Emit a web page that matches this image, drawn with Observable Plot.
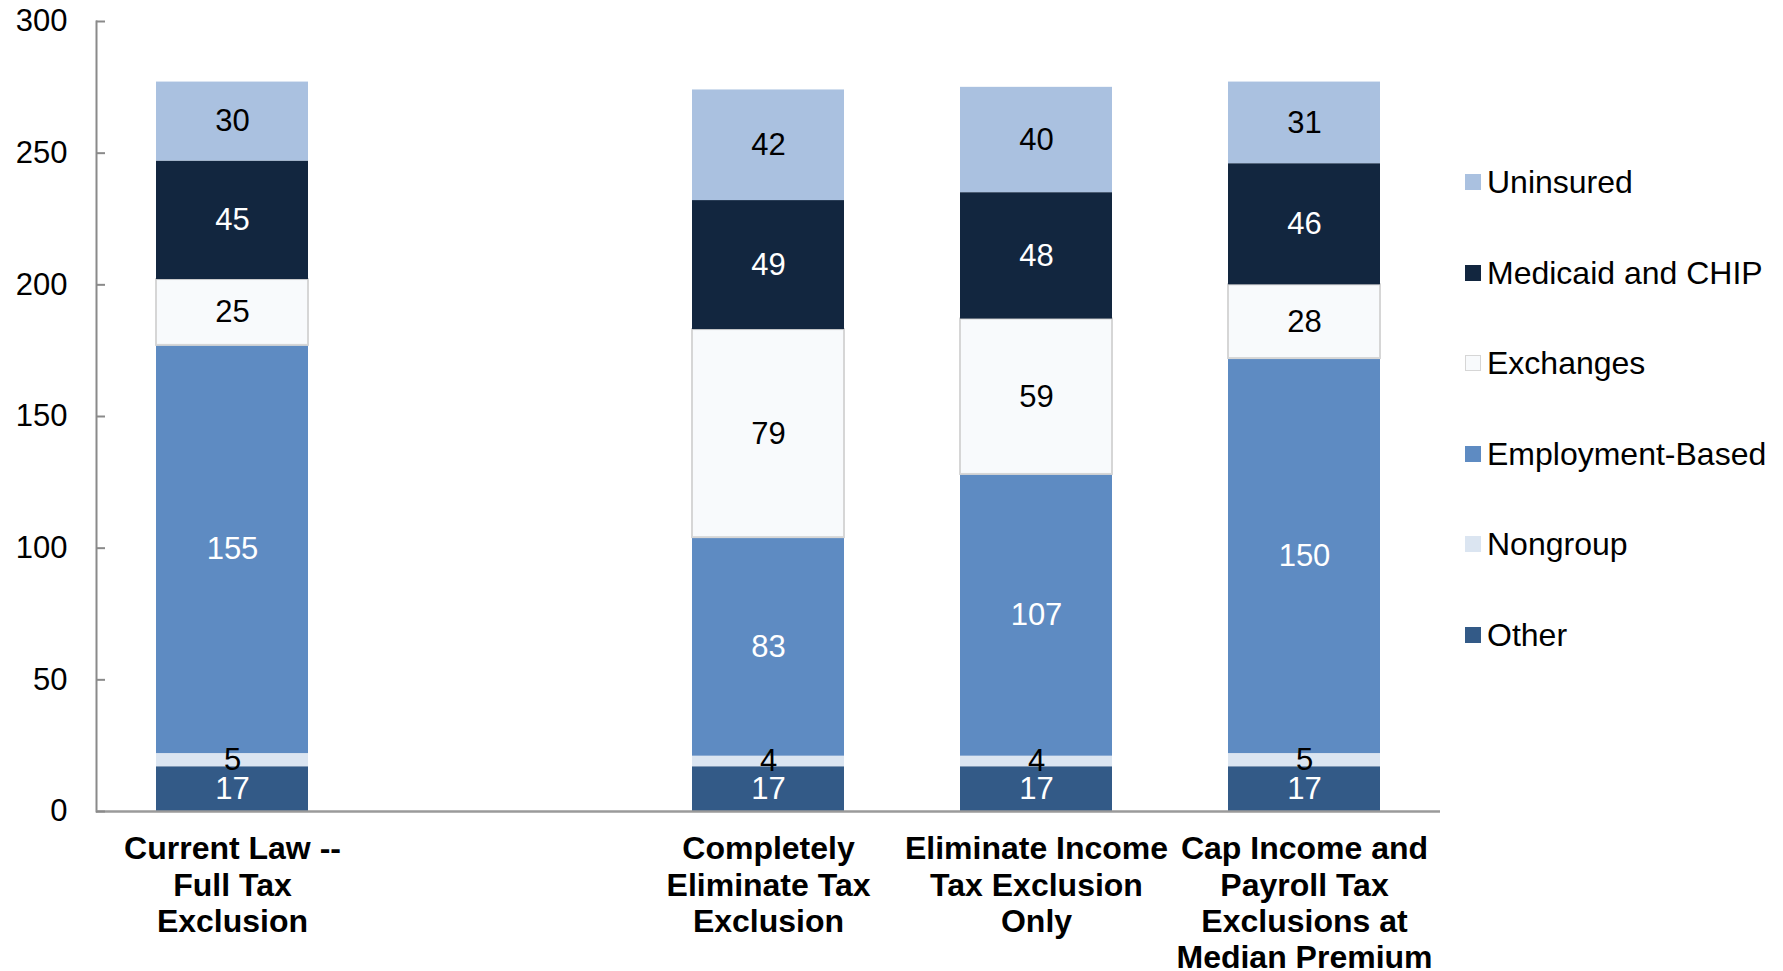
<!DOCTYPE html>
<html><head><meta charset="utf-8">
<script src="https://cdn.jsdelivr.net/npm/d3@7"></script>
<script src="https://cdn.jsdelivr.net/npm/@observablehq/plot@0.6"></script>
<style>
body{margin:0;background:#fff;font-family:"Liberation Sans",Arial,sans-serif;}
#wrap{position:relative;width:1783px;height:971px;overflow:hidden;}
#legend{position:absolute;left:1465px;top:164px;display:flex;flex-direction:column;gap:54.5px;}
.item{display:flex;align-items:center;white-space:nowrap;font-size:32px;line-height:36px;color:#000;}
.sw{width:16px;height:16px;margin-right:6px;box-sizing:border-box;flex:none;}
</style></head><body><div id="wrap"><div id="chart"></div><div id="legend"></div></div>
<script>
const categories = ["Current Law -- Full Tax Exclusion", "(gap)", "Completely Eliminate Tax Exclusion", "Eliminate Income Tax Exclusion Only", "Cap Income and Payroll Tax Exclusions at Median Premium"];
const categoryLabels = ["Current Law --\nFull Tax\nExclusion", "", "Completely\nEliminate Tax\nExclusion", "Eliminate Income\nTax Exclusion\nOnly", "Cap Income and\nPayroll Tax\nExclusions at\nMedian Premium"];
const barCategories = [categories[0], categories[2], categories[3], categories[4]];
const series = ["Other", "Nongroup", "Employment-Based", "Exchanges", "Medicaid and CHIP", "Uninsured"];
const seriesColors = ["#335A87", "#DBE5F1", "#5E8BC2", "#F8FAFC", "#12263F", "#AAC1E0"];
const darkSeries = ["Other", "Employment-Based", "Medicaid and CHIP"];
const other = [17, 17, 17, 17];
const nongroup = [5, 4, 4, 5];
const employment = [155, 83, 107, 150];
const exchanges = [25, 79, 59, 28];
const medicaid = [45, 49, 48, 46];
const uninsured = [30, 42, 40, 31];
const yTicks = [0, 50, 100, 150, 200, 250, 300];
const legendOrder = ["Uninsured", "Medicaid and CHIP", "Exchanges", "Employment-Based", "Nongroup", "Other"];

const valuesBySeries = [other, nongroup, employment, exchanges, medicaid, uninsured];
const data = [];
barCategories.forEach((c, i) => {
  series.forEach((s, j) => data.push({category: c, series: s, value: valuesBySeries[j][i]}));
});
const labelMap = new Map(categories.map((c, i) => [c, categoryLabels[i]]));
const isDark = d => darkSeries.includes(d.series);

const chart = Plot.plot({
  width: 1783,
  height: 971,
  marginLeft: 96,
  marginRight: 343,
  marginTop: 21,
  marginBottom: 160,
  style: {fontFamily: "'Liberation Sans', Arial, sans-serif", fontSize: "31px", color: "#000", background: "#fff"},
  x: {domain: categories, paddingInner: 0.434, paddingOuter: 0.217, label: null},
  y: {domain: [0, 300], label: null},
  color: {domain: series, range: seriesColors},
  marks: [
    Plot.barY(data, Plot.stackY({x: "category", y: "value", fill: "series", z: "series", order: series,
      stroke: "#D6D6D6", strokeWidth: 2, strokeOpacity: d => d.series === "Exchanges" ? 1 : 0})),
    Plot.text(data, Plot.stackY({x: "category", y: "value", z: "series", order: series,
      text: d => isDark(d) ? String(d.value) : null, fill: "white", fontSize: 31})),
    Plot.text(data, Plot.stackY({x: "category", y: "value", z: "series", order: series,
      text: d => isDark(d) ? null : String(d.value), fill: "black", fontSize: 31})),
    Plot.frame({anchor: "left", stroke: "#8A8A8A", strokeWidth: 2}),
    Plot.ruleY([0], {stroke: "#9A9A9A", strokeWidth: 2.5}),
    Plot.axisY({ticks: yTicks, tickSize: -9, tickPadding: 38, stroke: "#8A8A8A", strokeWidth: 2, fontSize: 31, label: null}),
    Plot.axisX({tickSize: 0, tickPadding: 22, fontWeight: "bold", fontSize: 32, lineHeight: 1.137, tickFormat: d => labelMap.get(d), label: null})
  ]
});
document.getElementById("chart").appendChild(chart);

const legend = document.getElementById("legend");
legendOrder.forEach(s => {
  const item = document.createElement("div");
  item.className = "item";
  const sw = document.createElement("span");
  sw.className = "sw";
  sw.style.background = seriesColors[series.indexOf(s)];
  if (s === "Exchanges") sw.style.border = "1.5px solid #D6D6D6";
  const t = document.createElement("span");
  t.textContent = s;
  item.appendChild(sw);
  item.appendChild(t);
  legend.appendChild(item);
});
</script></body></html>
